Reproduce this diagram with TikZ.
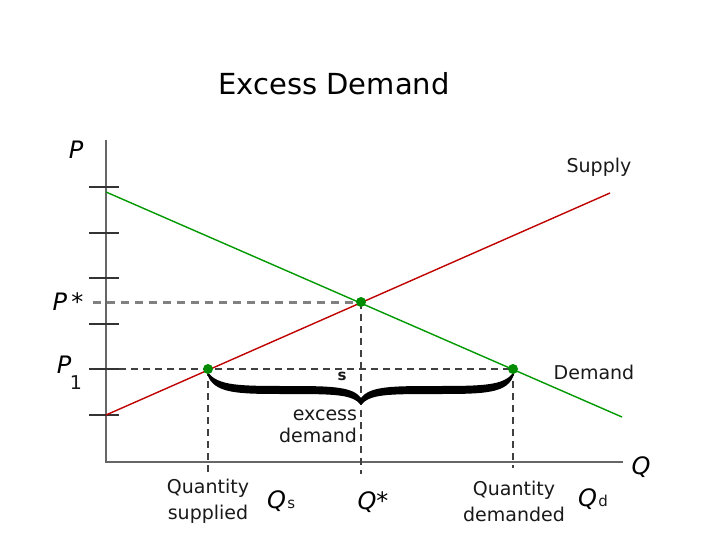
\documentclass[tikz,border=0pt]{standalone}
\usepackage{fontspec}
\setmainfont{DejaVu Sans}
\newfontfamily\obl{DejaVu Sans Oblique}
\begin{document}
\begin{tikzpicture}[x=1bp,y=-1bp,
  lbl/.style={font=\fontsize{19bp}{21bp}\selectfont, text=black!90, inner sep=0pt, align=center},
  var/.style={font=\fontsize{24bp}{26bp}\selectfont\obl, text=black, inner sep=0pt},
  axisline/.style={draw=black!60, line width=2bp},
  tick/.style={draw=black!80, line width=2bp},
  dashA/.style={draw=black!50, line width=3bp, dash pattern=on 8bp off 6bp},
  dashB/.style={draw=black!75, line width=2bp, dash pattern=on 7bp off 5bp},
  dot/.style={circle, fill=green!55!black, inner sep=0pt, minimum size=10bp}]
\useasboundingbox (0,0) rectangle (720,540);
\node[font=\fontsize{29bp}{31bp}\selectfont, inner sep=0pt] (title) at (334,84) {Excess Demand};
% axes
\coordinate (O) at (106,462);
\coordinate (Ytop) at (106,140);
\coordinate (Xend) at (623,462);
\draw[axisline] (Ytop) -- (O) -- (Xend);
\foreach \y in {187,233,278,324,369,415} \draw[tick] (89,\y) -- (119,\y);
% key points
\coordinate (A) at (208,369);
\coordinate (E) at (361,302);
\coordinate (B) at (513,369);
% dashed guides
\draw[dashA] (93,302) -- (E);
\draw[dashB] (119,369) -- (B);
\draw[dashB] (A) -- (208,475);
\draw[dashB] (E) -- (361,474);
\draw[dashB] (B) -- (513,468);
% curves
\coordinate (D0) at (106,192);
\coordinate (D1) at (622,417);
\coordinate (S0) at (106,415);
\coordinate (S1) at (610,193);
\draw[green!60!black, line width=1.4bp] (D0) -- (D1);
\draw[red!75!black, line width=1.4bp] (S0) -- (S1);
% brace
\fill[black] (206,369) .. controls (210,393) and (232,394) .. (282,394)
  .. controls (335,394) and (352,394) .. (361,405)
  .. controls (370,394) and (387,394) .. (440,394)
  .. controls (490,394) and (512,393) .. (515,369)
  .. controls (508,385) and (488,386) .. (440,386)
  .. controls (392,386) and (370,386) .. (361,398)
  .. controls (352,386) and (330,386) .. (282,386)
  .. controls (234,386) and (214,385) .. cycle;
\node[dot] at (A) {};
\node[dot] at (E) {};
\node[dot] at (B) {};
% labels
\node[lbl, font=\fontsize{15bp}{17bp}\selectfont\bfseries] (s) at (342,376) {s};
\node[lbl, align=right, font=\fontsize{19bp}{22bp}\selectfont] (ex) at (318,426) {excess\\demand};
\node[lbl] (sup) at (599,167) {Supply};
\node[lbl] (dem) at (594,372) {Demand};
\node[lbl, font=\fontsize{19bp}{26bp}\selectfont] (qs) at (208,501) {Quantity\\supplied};
\node[lbl, font=\fontsize{19bp}{26bp}\selectfont] (qd) at (514,501) {Quantity\\demanded};
\node[var] (P) at (76,150) {P};
\node[var] (Ps) at (68,302) {P$\,$*};
\node[var] (P1) at (64,365) {P};
\node[lbl] (one) at (76,383) {1};
\node[var] (Q) at (641,467) {Q};
\node[var] (Qstar) at (373,502) {Q*};
\node[var, anchor=base west] (Qs) at (267,508) {Q};
\node[lbl, anchor=base west, font=\fontsize{15bp}{17bp}\selectfont] at ([xshift=1bp]Qs.base east) {s};
\node[var, anchor=base west] (Qd) at (578,506) {Q};
\node[lbl, anchor=base west, font=\fontsize{15bp}{17bp}\selectfont] at ([xshift=1bp]Qd.base east) {d};
\end{tikzpicture}
\end{document}
